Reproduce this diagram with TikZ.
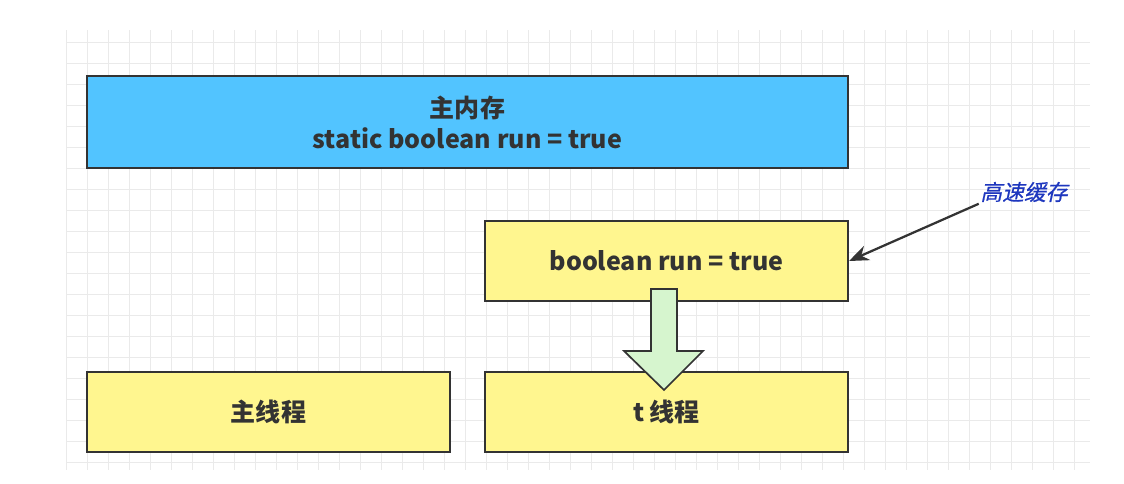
\documentclass[tikz,border=0pt]{standalone}
\usepackage{fontspec}
\setmainfont{Noto Sans CJK SC}
\newfontfamily\cjkslant[FakeSlant=0.22, FakeBold=0.6]{Noto Sans CJK SC}
\definecolor{memblue}{RGB}{82, 196, 255}
\definecolor{cacheyellow}{RGB}{255, 246, 143}
\definecolor{flowgreen}{RGB}{214, 245, 206}
\definecolor{edge}{RGB}{51, 51, 51}
\definecolor{labelblue}{RGB}{30, 55, 190}
\definecolor{gridgray}{RGB}{234, 234, 234}

\tikzset{
  box/.style={draw=edge, line width=1.4pt, inner sep=0pt, font=\fontsize{17.8}{22}\selectfont\bfseries, text=edge, align=center},
  membox/.style={box, fill=memblue, minimum width=19.025cm, minimum height=2.3cm},
  threadbox/.style={box, fill=cacheyellow, minimum width=9.075cm, minimum height=2cm},
  gridline/.style={gridgray, line width=0.5pt},
  pointer/.style={-{Stealth[length=14pt, width=11pt]}, edge, line width=1.6pt}
}

\usetikzlibrary{arrows.meta}

\begin{document}
\begin{tikzpicture}[x=0.025cm, y=-0.025cm]
  \useasboundingbox (0,0) rectangle (1124,484);

  % Background grid
  \foreach \gx in {0,...,48} {
    \draw[gridline] (66+21*\gx,30) -- (66+21*\gx,470);
  }
  \foreach \gy in {2,...,22} {
    \draw[gridline] (66,21*\gy) -- (1090,21*\gy);
  }

  % Memory and threads
  \node[membox] (mainmem) at (467.5,122) {主内存\\static boolean run = true};
  \node[threadbox] (cache) at (666.5,261) {boolean run = true};
  \node[threadbox] (mainthread) at (268.5,412) {主线程};
  \node[threadbox] (tthread) at (666.5,412) {t 线程};

  % Read flow into the t thread
  \draw[edge, fill=flowgreen, line width=1.2pt, line join=miter]
    (651,289) -- (677,289) -- (677,351) -- (703,351) -- (664,390)
    -- (624,351) -- (651,351) -- cycle;

  % Cache label
  \node[text=labelblue, font=\cjkslant\fontsize{15.5}{18}\selectfont, inner sep=1pt] (cachelbl) at (1024,192) {高速缓存};
  \draw[pointer] (cachelbl.south west) -- (cache.east);
\end{tikzpicture}
\end{document}
